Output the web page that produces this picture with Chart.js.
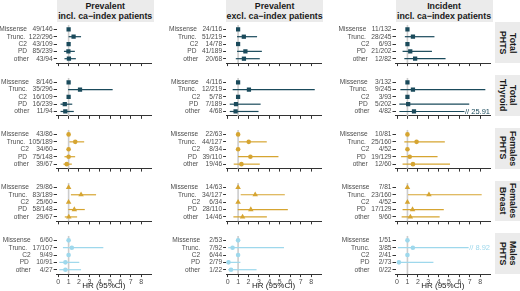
<!DOCTYPE html>
<html>
<head>
<meta charset="utf-8">
<script src="https://cdn.jsdelivr.net/npm/chart.js@4"></script>
<style>
    body { margin: 0; background: #fff; }
    #fig { position: relative; width: 520px; height: 291px; overflow: hidden; font-family: "Liberation Sans", Arial, sans-serif; }
    #fig canvas { position: absolute; }
    .strip-top { position: absolute; top: 0; background: #ebebeb; color: #1a1a1a; font-weight: bold; font-size: 8.8px; line-height: 10px; text-align: center; display: flex; flex-direction: column; justify-content: center; }
    .strip-right { position: absolute; left: 495px; width: 25px; background: #ebebeb; color: #1a1a1a; font-weight: bold; font-size: 8.8px; line-height: 10.5px; display: flex; align-items: center; justify-content: center; }
    .strip-right span { writing-mode: vertical-rl; text-align: center; }
</style>
</head>
<body>
<div id="fig"></div>
<script>
const categories = ["Missense", "Trunc.", "C2", "PD", "other"];
const columnTitles = [
    ["Prevalent", "incl. ca\u2212index patients"],
    ["Prevalent", "excl. ca\u2212index patients"],
    ["Incident", "incl. ca\u2212index patients"],
];
const rowTitles = [["Total", "PHTS"], ["Total", "Thyroid"], ["Females", "PHTS"], ["Females", "Breast"], ["Males", "PHTS"]];
const xTicks = [0, 1, 2, 3, 4, 5, 6, 7, 8];

// prevalent, incl. ca-index patients
const prevInclCounts = [
    ["49/146", "122/296", "43/109", "85/239", "43/94"],
    ["8/146", "35/296", "16/109", "16/239", "11/94"],
    ["43/86", "105/189", "34/60", "75/148", "39/67"],
    ["29/86", "83/189", "25/60", "58/148", "29/67"],
    ["6/60", "17/107", "9/49", "10/91", "4/27"],
];
const prevInclHR = [
    [1, 1.48, 1, 0.98, 1.03],
    [1, 2.1, 1, 0.63, 0.68],
    [1, 1.64, 1, 1.0, 0.82],
    [1, 2.2, 1, 1.55, 1.02],
    [1, 1.31, 1, 0.69, 0.69],
];
const prevInclLo = [
    [null, 1.0, null, 0.55, 0.6],
    [null, 0.95, null, 0.22, 0.22],
    [null, 1.08, null, 0.6, 0.5],
    [null, 1.22, null, 0.97, 0.63],
    [null, 0.45, null, 0.1, 0.1],
];
const prevInclHi = [
    [null, 2.2, null, 1.6, 1.7],
    [null, 5.25, null, 1.35, 1.5],
    [null, 2.5, null, 1.63, 1.31],
    [null, 3.65, null, 2.56, 1.82],
    [null, 4.35, null, 2.03, 2.2],
];

// prevalent, excl. ca-index patients
const prevExclCounts = [
    ["24/116", "51/219", "14/78", "41/189", "20/68"],
    ["4/116", "12/219", "5/78", "7/189", "4/68"],
    ["22/63", "44/127", "8/34", "39/110", "19/46"],
    ["14/63", "34/127", "6/34", "28/110", "14/46"],
    ["2/53", "7/92", "6/44", "2/79", "1/22"],
];
const prevExclHR = [
    [1, 1.55, 1, 1.7, 1.56],
    [1, 2.04, 1, 0.8, 0.76],
    [1, 2.02, 1, 2.18, 1.32],
    [1, 2.64, 1, 2.22, 1.43],
    [1, 0.47, 1, 0.08, 0.32],
];
const prevExclLo = [
    [null, 0.9, null, 0.9, 0.78],
    [null, 0.48, null, 0.2, 0.2],
    [null, 1.08, null, 1.0, 0.58],
    [null, 1.25, null, 0.97, 0.55],
    [null, 0.05, null, 0.01, 0.04],
];
const prevExclHi = [
    [null, 2.82, null, 3.28, 3.08],
    [null, 8.35, null, 3.16, 2.96],
    [null, 3.75, null, 4.87, 3.08],
    [null, 5.48, null, 5.77, 3.76],
    [null, 5.4, null, 1.22, 2.77],
];

// incident, incl. ca-index patients
const incidCounts = [
    ["11/132", "28/245", "6/93", "21/202", "12/82"],
    ["3/132", "9/245", "3/93", "5/202", "4/82"],
    ["10/81", "25/160", "4/52", "19/129", "12/60"],
    ["7/81", "23/160", "4/52", "17/129", "9/60"],
    ["1/51", "3/85", "2/41", "2/73", "0/22"],
];
const incidHR = [
    [1, 1.53, 1, 1.27, 1.74],
    [1, 1.53, 1, 1.07, 1.63],
    [1, 1.88, 1, 1.22, 1.53],
    [1, 3.07, 1, 1.49, 1.28],
    [1, 1.52, 1, 0.18, null],
];
const incidLo = [
    [null, 0.75, null, 0.53, 0.7],
    [null, 0.32, null, 0.22, 0.22],
    [null, 0.7, null, 0.39, 0.53],
    [null, 1.05, null, 0.53, 0.44],
    [null, 0.08, null, 0.05, null],
];
const incidHi = [
    [null, 3.6, null, 3.36, 4.67],
    [null, 8.5, null, 6.95, 25.91],
    [null, 4.6, null, 3.9, 5.1],
    [null, 8.15, null, 4.5, 4.1],
    [null, 8.92, null, 3.5, null],
];

const columns = [
    { counts: prevInclCounts, hr: prevInclHR, lo: prevInclLo, hi: prevInclHi },
    { counts: prevExclCounts, hr: prevExclHR, lo: prevExclLo, hi: prevExclHi },
    { counts: incidCounts, hr: incidHR, lo: incidLo, hi: incidHi },
];

const rowColors = ["#1a4a5b", "#1a4a5b", "#d6a531", "#d6a531", "#9ed8ec"];
const rowShapes = ["rect", "rect", "circle", "triangle", "circle"];
const rowRadius = [3, 3, 2.3, 3.2, 2.3];

// layout
const plotLeft = [56.7, 226.1, 395.5];
const canvasLeft = [0, 169, 337];
const plotW = 97;
const plotTop0 = 22.3;
const rowStep = 52.75;
const plotH = 40.8;
const X_MIN = -0.15;
const X_MAX = 8.95;
const CAP = 8.6;

const fig = document.getElementById("fig");

function makeCIPlugin(lo, hi, color) {
    return {
        id: "ci",
        beforeDatasetsDraw(chart) {
            const { ctx, chartArea, scales: { x, y } } = chart;
            const x1 = x.getPixelForValue(1);
            ctx.save();
            ctx.strokeStyle = "#cccccc";
            ctx.lineWidth = 1.6;
            ctx.beginPath();
            ctx.moveTo(x1, chartArea.top);
            ctx.lineTo(x1, chartArea.bottom);
            ctx.stroke();

            ctx.strokeStyle = color;
            ctx.fillStyle = color;
            ctx.lineWidth = 1.2;
            ctx.font = '7.5px "Liberation Sans", Arial, sans-serif';
            lo.forEach((l, i) => {
                const h = hi[i];
                if (l == null || h == null) {
                    return;
                }
                const py = y.getPixelForValue(i);
                let xEnd = x.getPixelForValue(h);
                if (h > CAP) {
                    // CI runs off the axis: cut it and print the real upper bound
                    const label = "// " + h.toFixed(2);
                    const right = chartArea.right;
                    ctx.textAlign = "right";
                    ctx.textBaseline = "middle";
                    ctx.fillText(label, right, py + 0.5);
                    xEnd = right - ctx.measureText(label).width - 0.5;
                }
                ctx.beginPath();
                ctx.moveTo(x.getPixelForValue(l), py);
                ctx.lineTo(xEnd, py);
                ctx.stroke();
            });
            ctx.restore();
        },
    };
}

function yLabel(name, count) {
    return name + "  " + count.padStart(7, " ");
}

columns.forEach((col, c) => {
    const strip = document.createElement("div");
    strip.className = "strip-top";
    strip.style.left = plotLeft[c] + "px";
    strip.style.width = plotW + "px";
    strip.style.height = plotTop0 + "px";
    strip.innerHTML = columnTitles[c].join("<br>");
    fig.appendChild(strip);

    for (let r = 0; r < 5; r++) {
        const plotTop = plotTop0 + r * rowStep;
        const top = Math.floor(plotTop) - 2;
        const padTop = plotTop - top;
        const bottomRow = r === 4;
        const height = bottomRow ? 291 - top : Math.ceil(padTop + plotH + 5);
        const xAxisH = height - padTop - plotH;
        const yAxisW = plotLeft[c] - canvasLeft[c];
        const width = Math.ceil(yAxisW + plotW + 1);
        const padRight = width - yAxisW - plotW;

        const canvas = document.createElement("canvas");
        canvas.width = width;
        canvas.height = height;
        canvas.style.left = canvasLeft[c] + "px";
        canvas.style.top = top + "px";
        fig.appendChild(canvas);

        const labels = categories.map((name, i) => yLabel(name, col.counts[r][i]));
        const points = col.hr[r]
            .map((v, i) => (v == null ? null : { x: v, y: i }))
            .filter((p) => p !== null);
        const color = rowColors[r];

        new Chart(canvas, {
            type: "scatter",
            data: {
                datasets: [{
                    data: points,
                    pointStyle: rowShapes[r],
                    pointRadius: rowRadius[r],
                    backgroundColor: color,
                    borderColor: color,
                    borderWidth: 0,
                }],
            },
            options: {
                responsive: false,
                animation: false,
                devicePixelRatio: 1,
                layout: { padding: { top: padTop, right: padRight, left: 0, bottom: 0 } },
                plugins: { legend: { display: false }, tooltip: { enabled: false } },
                scales: {
                    x: {
                        type: "linear",
                        min: X_MIN,
                        max: X_MAX,
                        afterBuildTicks: (s) => { s.ticks = xTicks.map((v) => ({ value: v })); },
                        afterFit: (s) => { s.height = xAxisH; },
                        border: { display: true, color: "#333333", width: 1 },
                        grid: { drawOnChartArea: false, drawTicks: true, tickLength: 3, color: "#333333" },
                        ticks: {
                            display: bottomRow,
                            autoSkip: false,
                            padding: 1,
                            color: "#4d4d4d",
                            font: { family: "Liberation Sans", size: 7 },
                            maxRotation: 0,
                        },
                        title: {
                            display: bottomRow,
                            text: "HR (95%CI)",
                            color: "#1a1a1a",
                            font: { family: "Liberation Sans", size: 8 },
                            padding: { top: 0, bottom: 0 },
                        },
                    },
                    y: {
                        type: "linear",
                        reverse: true,
                        min: -0.6,
                        max: 4.6,
                        afterBuildTicks: (s) => { s.ticks = [0, 1, 2, 3, 4].map((v) => ({ value: v })); },
                        afterFit: (s) => { s.width = yAxisW; },
                        border: { display: false },
                        grid: { drawOnChartArea: false, drawTicks: true, tickLength: 3, color: "#333333" },
                        ticks: {
                            autoSkip: false,
                            padding: 1,
                            color: "#4d4d4d",
                            font: { family: "Liberation Sans", size: 6.6 },
                            callback: (v) => labels[v],
                        },
                    },
                },
            },
            plugins: [makeCIPlugin(col.lo[r], col.hi[r], color)],
        });

        if (c === 2) {
            const rs = document.createElement("div");
            rs.className = "strip-right";
            rs.style.top = plotTop + "px";
            rs.style.height = plotH + "px";
            rs.innerHTML = "<span>" + rowTitles[r].join("<br>") + "</span>";
            fig.appendChild(rs);
        }
    }
});
</script>
</body>
</html>
